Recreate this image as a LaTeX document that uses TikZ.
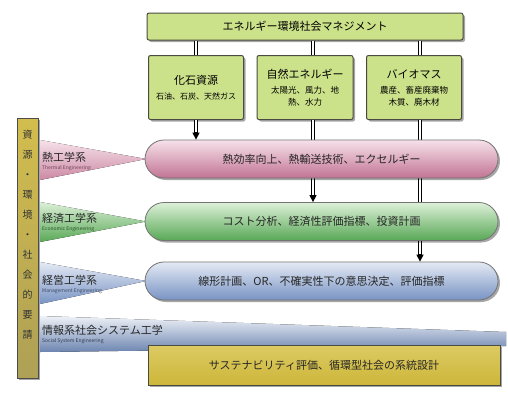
\documentclass[tikz,border=0pt]{standalone}
\usepackage{fontspec}
\setmainfont{Noto Sans CJK JP}
\usetikzlibrary{shapes.misc,shadows,arrows.meta}
\definecolor{boxgreen}{HTML}{CCE28A}
\definecolor{boxedge}{HTML}{4A4A40}
\definecolor{pinkT}{HTML}{F6E2EA}
\definecolor{pinkB}{HTML}{C27393}
\definecolor{greenT}{HTML}{DDF0D8}
\definecolor{greenB}{HTML}{58A856}
\definecolor{blueT}{HTML}{E4EAF4}
\definecolor{blueB}{HTML}{7893C4}
\definecolor{olive}{HTML}{CDB63A}
\definecolor{oliveL}{HTML}{DCCB63}
\newcommand{\bigf}{\fontsize{11}{13}\selectfont}
\newcommand{\smallf}{\fontsize{8.5}{12}\selectfont}
\begin{document}
\begin{tikzpicture}[x=1pt,y=-1pt,
  shad/.style={drop shadow={shadow xshift=2pt,shadow yshift=-2pt,fill=black,opacity=0.35}},
  greenbox/.style={draw=boxedge,line width=1pt,fill=boxgreen,rounded corners=2pt,shad,align=center,inner sep=0pt},
  capsule/.style={rounded rectangle,draw=black!55,line width=0.8pt,minimum width=353pt,minimum height=38pt,inner sep=0pt,shad,font=\bigf,text=black!85},
  vline/.style={draw=black,line width=3.4pt,postaction={draw=white,line width=1.4pt}},
  arr/.style={-{Triangle[length=7pt,width=7pt]},line width=1.4pt,black},
  lab/.style={anchor=west,font=\bigf,text=black!85,inner sep=0pt},
  sub/.style={anchor=west,font=\fontsize{5}{6}\selectfont,inner sep=0pt}
]
\useasboundingbox (0,0) rectangle (508,394);
\fill[white] (0,0) rectangle (508,394);

% coordinates of the vertical connectors
\coordinate (x1) at (196,0);
\coordinate (x2) at (313,0);
\coordinate (x3) at (420,0);

% top boxes
\node[greenbox,minimum width=316pt,minimum height=27pt,font=\bigf] (top) at (305,26.5) {エネルギー環境社会マネジメント};
\node[greenbox,minimum width=95pt,minimum height=64pt] (b1) at (196,87.5)
  {\bigf 化石資源\\[3pt]\fontsize{8}{10}\selectfont 石油、石炭、天然ガス};
\node[greenbox,minimum width=96pt,minimum height=64pt] (b2) at (305,87.5)
  {\bigf 自然エネルギー\\[3pt]\smallf 太陽光、風力、地\\\smallf 熱、水力};
\node[greenbox,minimum width=95pt,minimum height=64pt] (b3) at (414,87.5)
  {\bigf バイオマス\\[3pt]\smallf 農産、畜産廃棄物\\\smallf 木質、廃木材};

% connectors top -> boxes
\draw[vline] (top.south -| x1) -- (b1.north -| x1);
\draw[vline] (top.south -| x2) -- (b2.north -| x2);
\draw[vline] (top.south -| x3) -- (b3.north -| x3);

% wedges from the left labels
\fill[top color=pinkT,bottom color=pinkB!85] (40,140) -- (146,159) -- (40,180) -- cycle;
\fill[top color=greenT,bottom color=greenB] (40,202) -- (146,221.5) -- (40,242) -- cycle;
\fill[top color=blueT,bottom color=blueB] (40,262) -- (146,281) -- (40,304) -- cycle;
\fill[top color=blueT!60,bottom color=blueB!90!black] (40,316) -- (506,332) -- (506,346) -- (40,352) -- cycle;

% connectors boxes -> capsules (behind capsules)
\coordinate (e1) at (196,140);
\coordinate (e2) at (313,203);
\coordinate (e3) at (420,262);
\draw[vline] (b1.south -| x1) -- ([yshift=7pt]e1);
\draw[vline] (b2.south -| x2) -- ([yshift=7pt]e2);
\draw[vline] (b3.south -| x3) -- ([yshift=7pt]e3);

% capsules
\node[capsule,top color=pinkT,bottom color=pinkB] (c1) at (321.5,159) {熱効率向上、熱輸送技術、エクセルギー};
\node[capsule,top color=greenT,bottom color=greenB] (c2) at (321.5,221.5) {コスト分析、経済性評価指標、投資計画};
\node[capsule,top color=blueT,bottom color=blueB] (c3) at (321.5,281) {線形計画、OR、不確実性下の意思決定、評価指標};

% arrow heads into the capsules
\draw[arr] ([yshift=8pt]e1) -- (c1.north -| x1);
\draw[arr] ([yshift=8pt]e2) -- (c2.north -| x2);
\draw[arr] ([yshift=8pt]e3) -- (c3.north -| x3);

% bottom box
\node[draw=boxedge,line width=1pt,top color=oliveL,bottom color=olive,shad,minimum width=352pt,minimum height=40pt,font=\bigf,text=black!85] (bot) at (324,365) {サステナビリティ評価、循環型社会の系統設計};

% left bar
\node[draw=black!70,line width=1pt,top color=olive!90,bottom color=olive!60!gray,minimum width=21pt,minimum height=260pt,inner sep=0pt,shad] (bar) at (27.5,248) {};
\node[align=center,inner sep=0pt,font=\fontsize{10}{20}\selectfont,text=black!80] (bartext) at (27.5,235) {資\\源\\・\\環\\境\\・\\社\\会\\的\\要\\請};

% left labels
\node[lab] (l1) at (42,157) {熱工学系};
\node[sub,text=pinkB!60!black] (s1) at (42,168) {Thermal Engineering};
\node[lab] (l2) at (42,218) {経済工学系};
\node[sub,text=greenB!50!black] (s2) at (42,229) {Economic Engineering};
\node[lab] (l3) at (42,280) {経営工学系};
\node[sub,text=blueB!50!black] (s3) at (42,291) {Management Engineering};
\node[lab] (l4) at (42,330) {情報系社会システム工学};
\node[sub,text=blueB!40!black] (s4) at (42,341) {Social System Engineering};
\end{tikzpicture}
\end{document}
